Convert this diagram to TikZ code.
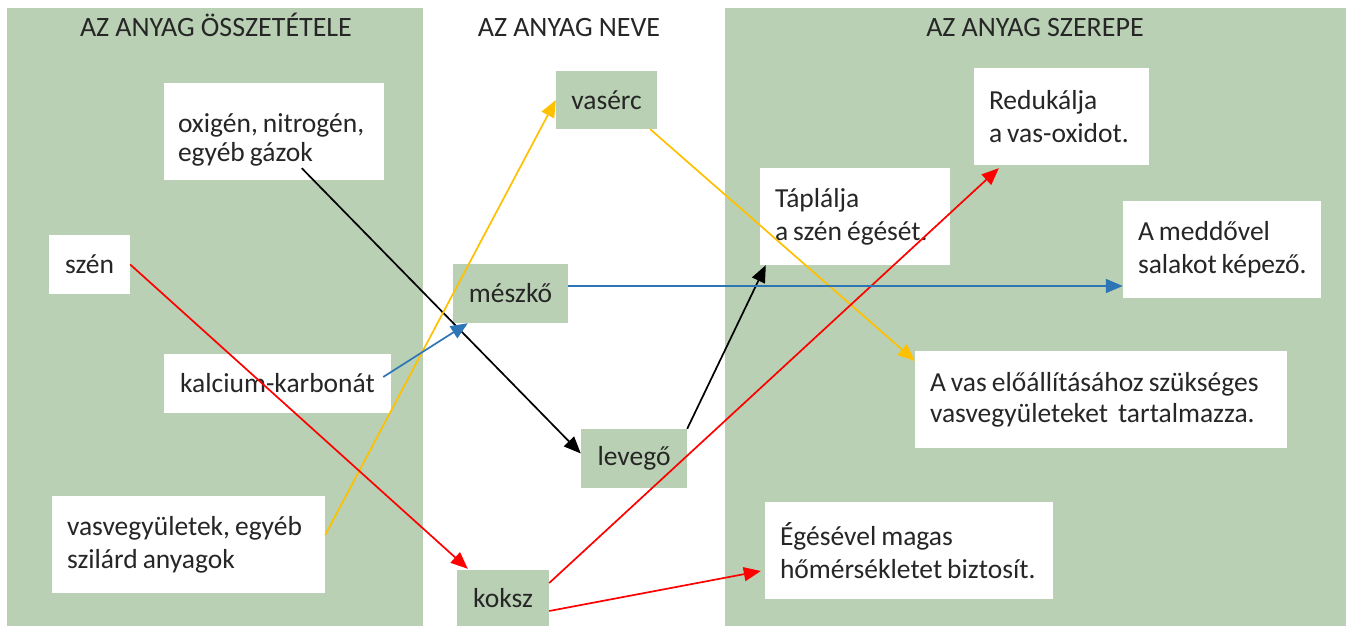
\documentclass[tikz,border=0pt]{standalone}
\usepackage{fontspec}
\setmainfont{Carlito}
\usetikzlibrary{arrows.meta,calc}
\definecolor{panel}{HTML}{B9D0B4}
\definecolor{ink}{HTML}{262626}
\definecolor{ared}{HTML}{FF0000}
\definecolor{ayel}{HTML}{FFC000}
\definecolor{ablue}{HTML}{2E75B6}
\newcommand{\lin}[1]{\mbox{#1}}
\newcommand{\tightsp}{\spaceskip=5pt\relax}
\newcommand{\titlesp}{\spaceskip=6pt\relax}
\begin{document}
\begin{tikzpicture}[x=1pt,y=-1pt,
  every node/.style={font=\fontsize{27.5}{33}\selectfont, text=ink, execute at begin node=\tightsp},
  wbox/.style={fill=white, inner sep=0pt, align=left},
  gbox/.style={fill=panel, inner sep=0pt, align=center},
  title/.style={anchor=base, font=\fontsize{28}{33}\selectfont, execute at begin node=\titlesp},
  conn/.style={line width=1.7pt, -{Triangle[length=17pt,width=14pt]}}
]
\useasboundingbox (0,0) rectangle (1347,626);
% panels
\fill[panel] (7,8) rectangle (423,626);
\fill[panel] (725,8) rectangle (1346,626);
% titles
\node[title] (t1) at (216,37) {AZ ANYAG ÖSSZETÉTELE};
\node[title] (t2) at (569,37) {AZ ANYAG NEVE};
\node[title] (t3) at (1035,37) {AZ ANYAG SZEREPE};
% left boxes
\node[wbox, minimum height=97pt, text width=192pt, inner xsep=14pt] (oxi) at (274,131.5) {\rule{0pt}{35pt}\lin{oxigén, nitrogén,}\\[-4pt]\lin{egyéb gázok}};
\node[wbox, minimum width=81pt, minimum height=59pt] (szen) at (89.5,264.5) {szén};
\node[wbox, minimum width=227pt, minimum height=59pt] (kalc) at (277.5,383.5) {\lin{kalcium-karbonát}};
\node[wbox, minimum height=97pt, text width=243pt, inner xsep=15pt] (vasv) at (188.5,544.5) {\lin{vasvegyületek, egyéb}\\\lin{szilárd anyagok}};
% middle boxes
\node[gbox, minimum width=101pt, minimum height=58pt] (vaserc) at (606.5,100) {vasérc};
\node[gbox, minimum width=115pt, minimum height=59pt] (meszko) at (510.5,293.5) {mészkő};
\node[gbox, minimum width=106pt, minimum height=59pt] (levego) at (634,458.5) {levegő};
\node[gbox, minimum width=92pt, minimum height=56pt] (koksz) at (503,598) {koksz};
% right boxes
\node[wbox, minimum height=97pt, text width=145pt, inner xsep=15pt] (redu) at (1061.5,116.5) {\lin{Redukálja}\\\lin{a vas-oxidot.}};
\node[wbox, minimum height=97pt, text width=160pt, inner xsep=15pt] (tapl) at (855,216.5) {\lin{Táplálja}\\\lin{a szén égését.}};
\node[wbox, minimum height=97pt, text width=168pt, inner xsep=15pt] (medd) at (1222,249.5) {\lin{A meddővel}\\\lin{salakot képező.}};
\node[wbox, minimum height=97pt, text width=342pt, inner xsep=15pt] (avas) at (1101,399.5) {\lin{A vas előállításához szükséges}\\[-2pt]\lin{vasvegyületeket\ \ tartalmazza.}};
\node[wbox, minimum height=97pt, text width=258pt, inner xsep=15pt] (eges) at (909,550.5) {\lin{Égésével magas}\\\lin{hőmérsékletet biztosít.}};
% connectors
\draw[conn, black] ($(oxi.south west)+(138,-12)$) -- ($(levego.west)+(0,-5)$);
\draw[conn, black] (levego.north east) -- ($(tapl.south west)+(6,0)$);
\draw[conn, ayel] ($(vasv.east)+(0,-9.5)$) -- (vaserc.west);
\draw[conn, ayel] ($(vaserc.south east)+(-7,0)$) -- ($(avas.north west)+(0,10)$);
\draw[conn, ared] (szen.east) -- ($(koksz.north west)+(11,-1)$);
\draw[conn, ared] ($(koksz.east)+(0,-15)$) -- ($(redu.south west)+(25,3)$);
\draw[conn, ared] ($(koksz.east)+(0,13)$) -- ($(eges.west)+(-4,20.5)$);
\draw[conn, ablue] ($(kalc.east)+(-8,-6.5)$) -- ($(meszko.south west)+(15,0)$);
\draw[conn, ablue] ($(meszko.east)+(0,-7.5)$) -- ($(medd.west)+(0,36.5)$);
\end{tikzpicture}
\end{document}
